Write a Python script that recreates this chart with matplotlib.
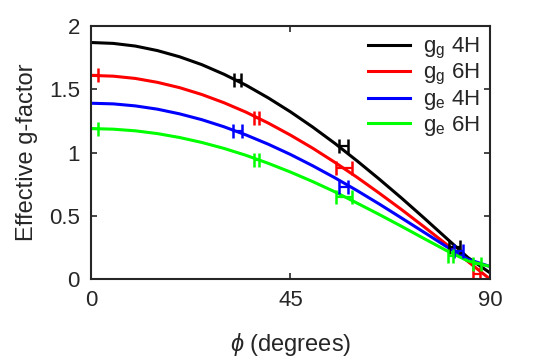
import numpy as np
import matplotlib
matplotlib.use("Agg")
import matplotlib.pyplot as plt

plt.rcParams["font.family"] = ["Liberation Sans", "DejaVu Sans"]
plt.rcParams["mathtext.fontset"] = "custom"
plt.rcParams["mathtext.rm"] = "Liberation Sans"
plt.rcParams["mathtext.it"] = "Liberation Sans:italic"

# angle grid (degrees) for the curves
phi = [0, 5, 10, 15, 20, 25, 30, 35, 40, 45, 50, 55, 60, 65, 70, 75, 80, 85, 90]

# curves
gg_4h = [1.87, 1.863, 1.842, 1.806, 1.757, 1.695, 1.619, 1.532, 1.432, 1.322,
         1.202, 1.073, 0.935, 0.791, 0.642, 0.487, 0.329, 0.171, 0.05]
gg_6h = [1.61, 1.604, 1.586, 1.555, 1.513, 1.459, 1.394, 1.319, 1.233, 1.138,
         1.035, 0.923, 0.805, 0.680, 0.551, 0.417, 0.280, 0.140, 0.0]
ge_4h = [1.39, 1.385, 1.369, 1.343, 1.306, 1.260, 1.204, 1.139, 1.066, 0.985,
         0.896, 0.801, 0.700, 0.594, 0.484, 0.373, 0.261, 0.157, 0.10]
ge_6h = [1.19, 1.185, 1.172, 1.150, 1.119, 1.080, 1.033, 0.978, 0.915, 0.846,
         0.771, 0.690, 0.601, 0.511, 0.418, 0.323, 0.229, 0.144, 0.10]

# measured points with horizontal error bars
gg_4h_x, gg_4h_y, gg_4h_err = [33, 57, 82], [1.57, 1.05, 0.25], [0.8, 1.0, 1.2]
gg_6h_x, gg_6h_y, gg_6h_err = [0, 37.4, 57, 87], [1.61, 1.27, 0.88, 0.04], [1.6, 0.6, 1.8, 0.8]
ge_4h_x, ge_4h_y, ge_4h_err = [33, 57, 83], [1.17, 0.73, 0.22], [1.0, 1.0, 1.0]
ge_6h_x, ge_6h_y, ge_6h_err = [0, 37.4, 57, 81.1, 87.1], [1.19, 0.94, 0.65, 0.18, 0.12], [1.6, 0.6, 1.8, 0.6, 0.9]

series = [
    ("g$_\\mathrm{g}$ 4H", "#000000", gg_4h, gg_4h_x, gg_4h_y, gg_4h_err),
    ("g$_\\mathrm{g}$ 6H", "#ff0000", gg_6h, gg_6h_x, gg_6h_y, gg_6h_err),
    ("g$_\\mathrm{e}$ 4H", "#0000ff", ge_4h, ge_4h_x, ge_4h_y, ge_4h_err),
    ("g$_\\mathrm{e}$ 6H", "#00ff00", ge_6h, ge_6h_x, ge_6h_y, ge_6h_err),
]

fig = plt.figure(figsize=(5.45, 3.62), dpi=100)
ax = fig.add_axes([0.167, 0.229, 0.732, 0.699])

for label, col, curve, ex, ey, eerr in series:
    ax.plot(phi, curve, color=col, lw=2.2, label=label)
for label, col, curve, ex, ey, eerr in series:
    ax.errorbar(ex, ey, xerr=eerr, fmt="none", ecolor=col, elinewidth=1.6,
                capsize=5, capthick=1.8)

ax.set_xlim(0, 90)
ax.set_ylim(0, 2)
ax.set_xticks([0, 45, 90])
ax.set_yticks([0, 0.5, 1, 1.5, 2])
ax.set_yticklabels(["0", "0.5", "1", "1.5", "2"])
ax.tick_params(direction="in", top=True, right=True, labelsize=16,
               length=4, width=1.2, colors="#262626", pad=8)
for s in ax.spines.values():
    s.set_linewidth(1.5)
    s.set_color("#262626")

ax.set_xlabel("$\\phi$ (degrees)", fontsize=17, color="#262626", labelpad=14)
ax.set_ylabel("Effective g-factor", fontsize=17, color="#262626", labelpad=8)

leg = ax.legend(loc="upper right", frameon=False, fontsize=16,
                handlelength=1.9, handletextpad=0.6, labelspacing=0.05,
                borderaxespad=0.05)
for t in leg.get_texts():
    t.set_color("#262626")

fig.savefig("out.png", dpi=100)
